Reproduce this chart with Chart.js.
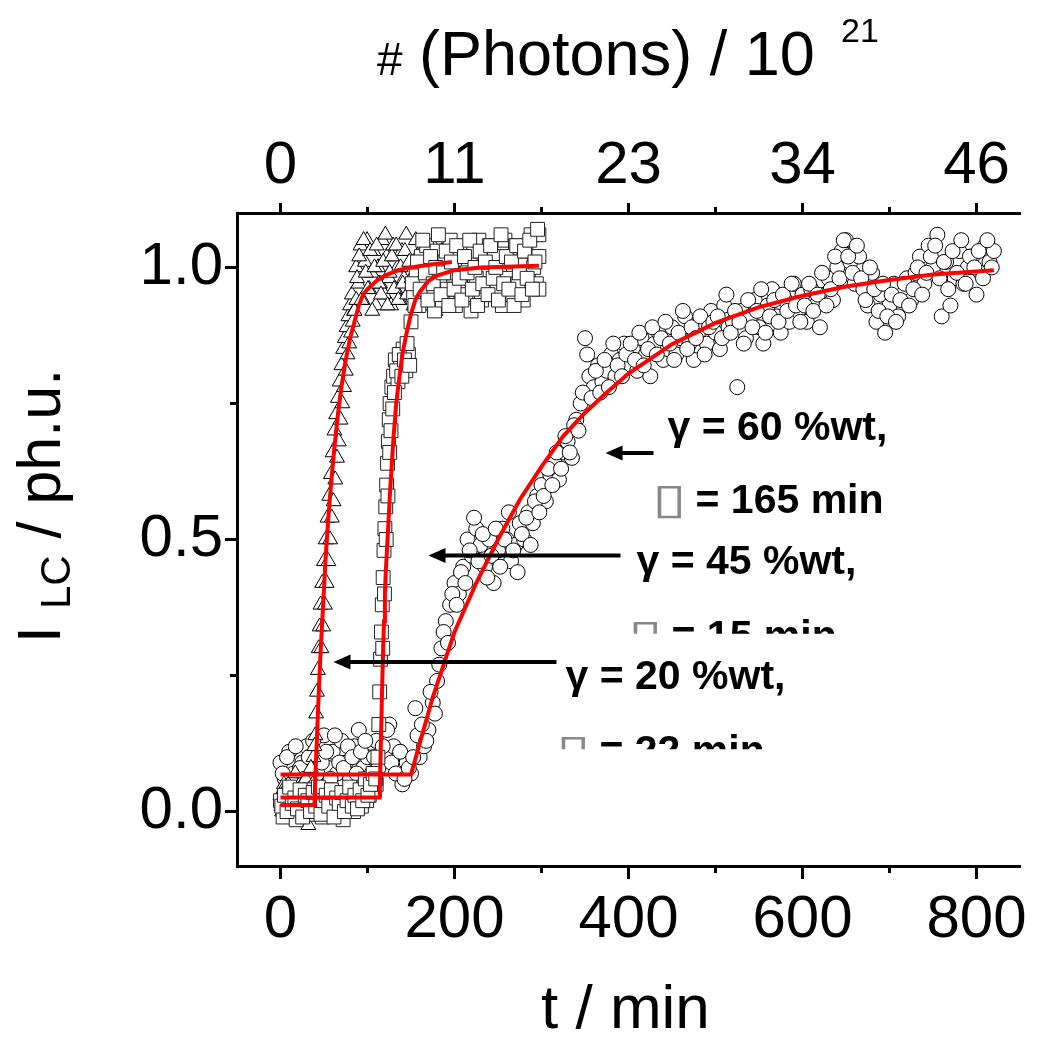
<!DOCTYPE html>
<html lang="en">
<head>
  <meta charset="UTF-8" />
  <title>I_LC vs t</title>
  <script src="https://cdn.jsdelivr.net/npm/chart.js"></script>
  <style>
    body { margin: 0; background: #fff; }
    #wrap { width: 1037px; height: 1038px; }
  </style>
</head>
<body>
  <div id="wrap"><canvas id="c"></canvas></div>

  <script>
    // --- gamma = 20 %wt (triangles) ---
    const triT = [0,2,4,6,8,10,12,14,16,18,20,22,24,26,28,30,32,34,36,
      38,40,41,42,43,44,45,46,48,50,52,54,56,58,60,62,64,66,68,70,72,74,76,78,80,
      82,84.5,87,89.5,92,94.5,97,99.5,102,104.5,107,109.5,112,114.5,117,119.5,122,124.5,127,129.5,
      132,134.5,137,139.5,142,144.5,147,149.5,152,154.5,157,159.5,162,164.5,167,169.5,172,174.5,
      177,179.5,182,184.5,187,189.5,192,194.5,197,199.5];
    const triY = [0.03,0.0,0.05,0.02,-0.01,0.04,0.01,0.06,0.02,0.0,0.03,0.05,0.01,0.0,0.02,0.04,-0.025,0.03,0.06,
      0.1,0.14,0.18,0.22,0.26,0.3,0.34,0.38,0.42,0.46,0.5,0.54,0.58,0.62,0.66,0.7,0.73,0.76,0.79,0.82,0.85,0.87,0.89,0.91,0.93,
      0.95,0.92,1.0,0.97,1.04,0.94,1.01,1.05,0.96,0.99,1.03,0.93,1.0,0.97,1.05,0.95,1.02,0.98,0.93,1.04,
      0.96,1.0,0.94,1.03,0.98,1.06,0.95,1.01,0.97,0.93,1.02,0.99,0.95,1.04,0.97,1.0,0.93,1.03,
      0.96,1.01,0.98,1.05,0.94,1.0,0.97,1.03,0.95,0.99];
    const tri2T = [1,3,5,7,9,11,13,15,17,19,21,23,25,27,29,31,33,35,37,39,
      47,49,51,53,55,57,59,61,63,65,67,69,71,73,75,77,79,81,83,85,87,
      88,90.5,93,95.5,98,100.5,103,105.5,108,110.5,113,115.5,118,120.5,123,125.5,128,130.5,133,135.5,
      138,140.5,143,145.5,148,150.5,153,155.5,158,160.5,163,165.5,168,170.5,173,175.5,178,180.5,183,185.5,
      188,190.5,193,195.5,198];
    const tri2Y = [0.01,0.04,-0.005,0.03,0.05,0.0,0.02,0.04,0.07,0.01,0.03,-0.01,0.05,0.02,0.06,0.01,0.04,0.08,0.05,0.12,
      0.3,0.34,0.38,0.42,0.46,0.5,0.54,0.57,0.61,0.65,0.68,0.72,0.75,0.78,0.81,0.84,0.86,0.88,0.9,0.92,0.94,
      0.98,1.02,0.94,1.05,0.99,0.96,1.03,0.92,1.0,1.04,0.97,0.95,1.01,1.06,0.93,0.99,1.02,0.96,1.04,0.94,
      1.0,0.97,1.03,0.95,1.01,0.98,0.93,1.05,0.96,1.0,1.03,0.94,0.99,1.02,0.96,1.04,0.92,1.0,0.97,1.03,
      0.95,1.01,0.98,0.94,1.02];

    // --- gamma = 45 %wt (squares) ---
    const sqT = [0,3,6,9,12,15,18,21,24,27,30,33,36,39,42,45,48,51,54,57,60,63,66,69,72,75,78,81,84,87,90,93,96,99,102,105,108,
      110,112,113,114,115,116,117,118,119,120,121,122,123,124,125,126,128,130,132,135,138,141,144,147,
      150,153,156,159,162,165,168,171,174,177,180,183,186,189,192,195,198,201,204,207,210,213,216,219,
      222,225,228,231,234,237,240,243,246,249,252,255,258,261,264,267,270,273,276,279,282,285,288,291,294,297,297,297];
    const sqY = [0.02,-0.01,0.03,0.0,0.04,0.01,-0.015,0.02,0.035,0.0,0.015,0.04,-0.005,0.02,0.03,0.01,-0.01,0.025,0.04,0.005,
      0.02,0.0,0.03,0.015,-0.015,0.025,0.01,0.04,0.0,0.02,0.035,0.01,0.045,0.02,0.03,0.05,0.04,
      0.05,0.1,0.16,0.22,0.28,0.33,0.38,0.43,0.48,0.52,0.56,0.6,0.64,0.68,0.72,0.75,0.78,0.8,0.83,0.79,0.82,0.85,0.81,0.84,
      0.9,0.95,0.99,0.93,1.02,0.97,1.04,0.95,1.0,0.92,1.03,0.98,0.94,1.01,0.96,1.05,0.99,0.93,1.02,0.97,1.04,0.95,1.0,0.92,
      1.03,0.98,1.05,0.94,1.01,0.97,1.04,0.95,1.02,0.96,1.0,0.93,1.05,0.98,1.02,0.95,1.04,0.97,1.01,0.94,1.03,0.99,1.06,1.0,0.97,1.02,1.06,0.96];
    const sq2T = [1.5,4.5,7.5,10.5,13.5,16.5,19.5,22.5,25.5,28.5,31.5,34.5,37.5,40.5,43.5,46.5,49.5,52.5,55.5,58.5,
      61.5,64.5,67.5,70.5,73.5,76.5,79.5,82.5,85.5,88.5,91.5,94.5,97.5,100.5,103.5,106.5,109.5,
      117.5,119.5,121.5,123.5,125.5,127,129,131,133.5,136.5,139.5,142.5,145.5,148.5,
      151.5,154.5,157.5,160.5,163.5,166.5,169.5,172.5,175.5,178.5,181.5,184.5,187.5,190.5,193.5,196.5,199.5,
      202.5,205.5,208.5,211.5,214.5,217.5,220.5,223.5,226.5,229.5,232.5,235.5,238.5,241.5,244.5,247.5,250.5,
      253.5,256.5,259.5,262.5,265.5,268.5,271.5,274.5,277.5,280.5,283.5,286.5,289.5,292.5,295.5];
    const sq2Y = [0.01,0.03,0.0,0.045,0.015,0.025,0.005,0.04,-0.01,0.03,0.02,0.0,0.035,0.01,0.045,-0.005,0.02,0.03,0.01,0.04,
      -0.01,0.025,0.015,0.035,0.0,0.02,0.045,0.01,0.03,0.005,0.04,0.02,0.06,0.03,0.05,0.07,0.06,
      0.3,0.4,0.5,0.58,0.66,0.7,0.74,0.77,0.81,0.84,0.8,0.83,0.86,0.82,
      0.97,0.93,1.01,0.96,1.05,0.99,0.94,1.02,0.97,1.0,1.06,0.95,0.99,1.03,0.93,1.01,0.96,
      1.04,0.98,0.94,1.02,0.99,1.05,0.96,1.0,0.93,1.03,0.97,1.01,0.95,1.04,0.98,1.0,0.94,
      1.06,0.97,1.02,0.96,1.01,0.93,1.04,0.99,0.95,1.03,0.98,1.05,0.96,1.01,1.07];

    // --- gamma = 60 %wt (circles) ---
    const cirT = [0,5,10,15,20,25,30,35,40,45,50,55,60,65,70,75,80,85,90,95,100,105,110,115,120,125,130,135,140,145,
      150,155,160,165,170,175,180,185,190,195,200,205,210,215,220,225,230,235,240,245,250,255,260,265,270,275,280,285,290,295,
      300,305,310,315,320,325,330,335,340,345,350,355,360,365,370,375,380,385,390,395,400,405,410,415,420,425,430,435,440,445,
      450,455,460,465,470,475,480,485,490,495,500,505,510,515,520,525,530,535,540,545,550,555,560,565,570,575,580,585,590,595,
      600,605,610,615,620,625,630,635,640,645,650,655,660,665,670,675,680,685,690,695,700,705,710,715,720,725,730,735,740,745,
      750,755,760,765,770,775,780,785,790,795,800,805,810,815,820];
    const cirY = [0.09,0.06,0.11,0.07,0.05,0.09,0.12,0.08,0.06,0.1,0.14,0.08,0.11,0.07,0.13,0.09,0.06,0.12,0.15,0.08,
      0.1,0.07,0.13,0.09,0.11,0.16,0.12,0.08,0.05,0.09,
      0.07,0.19,0.1,0.12,0.15,0.2,0.24,0.3,0.35,0.38,0.42,0.4,0.45,0.5,0.47,0.52,0.49,0.45,0.5,0.42,
      0.48,0.52,0.5,0.46,0.49,0.53,0.5,0.55,0.53,0.58,0.6,0.57,0.62,0.64,0.61,0.66,0.68,0.65,0.72,0.75,
      0.87,0.8,0.78,0.82,0.79,0.81,0.84,0.8,0.83,0.86,0.82,0.85,0.81,0.87,0.84,0.8,0.86,0.88,0.83,0.85,
      0.89,0.84,0.87,0.91,0.86,0.83,0.88,0.9,0.86,0.92,0.88,0.85,0.93,0.89,0.9,0.78,0.92,0.87,0.91,0.94,
      0.89,0.86,0.93,0.96,0.91,0.88,0.94,0.9,0.97,0.92,0.95,0.9,0.96,0.93,0.89,0.95,0.98,0.94,1.0,1.03,
      1.05,1.01,0.97,1.02,0.96,0.93,0.99,0.9,0.95,0.88,0.93,0.97,0.91,0.95,0.98,0.94,0.99,1.02,0.97,1.04,
      1.0,1.06,0.91,1.01,0.93,0.98,1.03,0.97,1.0,1.02,0.95,0.99,1.04,1.01,1.03];
    const cir2T = [2.5,7.5,12.5,17.5,22.5,27.5,32.5,37.5,42.5,47.5,52.5,57.5,62.5,67.5,72.5,77.5,82.5,87.5,92.5,97.5,
      102.5,107.5,112.5,117.5,122.5,127.5,132.5,137.5,142.5,147.5,152.5,157.5,162.5,167.5,172.5,177.5,182.5,187.5,192.5,197.5,
      202.5,207.5,212.5,217.5,222.5,227.5,232.5,237.5,242.5,247.5,252.5,257.5,262.5,267.5,272.5,277.5,282.5,287.5,292.5,297.5,
      302.5,307.5,312.5,317.5,322.5,327.5,332.5,337.5,342.5,347.5,352.5,357.5,362.5,367.5,372.5,377.5,382.5,387.5,392.5,397.5,
      402.5,407.5,412.5,417.5,422.5,427.5,432.5,437.5,442.5,447.5,452.5,457.5,462.5,467.5,472.5,477.5,482.5,487.5,492.5,497.5,
      502.5,507.5,512.5,517.5,522.5,527.5,532.5,537.5,542.5,547.5,552.5,557.5,562.5,567.5,572.5,577.5,582.5,587.5,592.5,597.5,
      602.5,607.5,612.5,617.5,622.5,627.5,632.5,637.5,642.5,647.5,652.5,657.5,662.5,667.5,672.5,677.5,682.5,687.5,692.5,697.5,
      702.5,707.5,712.5,717.5,722.5,727.5,732.5,737.5,742.5,747.5,752.5,757.5,762.5,767.5,772.5,777.5,782.5,787.5,792.5,797.5,
      802.5,807.5,812.5,817.5];
    const cir2Y = [0.07,0.1,0.05,0.12,0.08,0.06,0.1,0.13,0.07,0.09,0.11,0.06,0.14,0.09,0.08,0.12,0.1,0.07,0.11,0.13,
      0.06,0.1,0.08,0.12,0.15,0.09,0.07,0.11,0.06,0.08,0.1,0.14,0.16,0.13,0.22,0.18,0.27,0.33,0.31,0.4,
      0.38,0.44,0.42,0.48,0.54,0.46,0.51,0.43,0.47,0.52,0.45,0.5,0.55,0.48,0.44,0.51,0.54,0.49,0.57,0.55,
      0.58,0.63,0.6,0.66,0.63,0.69,0.66,0.71,0.7,0.77,0.84,0.76,0.81,0.77,0.83,0.78,0.86,0.82,0.8,0.84,
      0.86,0.83,0.88,0.82,0.85,0.89,0.84,0.87,0.9,0.86,0.83,0.88,0.92,0.85,0.89,0.87,0.91,0.84,0.89,0.9,
      0.91,0.87,0.95,0.88,0.92,0.9,0.86,0.94,0.89,0.92,0.96,0.88,0.91,0.94,0.9,0.95,0.92,0.97,0.93,0.9,
      0.93,0.97,0.92,0.95,0.99,0.93,0.96,1.02,0.98,1.05,1.02,0.99,1.04,0.98,0.94,1.0,0.96,0.92,0.97,0.91,
      0.95,0.9,0.94,0.97,0.93,0.96,1.0,0.95,0.99,1.02,1.04,0.98,1.01,0.96,1.03,0.99,1.05,0.97,1.02,1.0,
      1.03,0.98,1.05,1.0];

    // --- red fit curves ---
    const fit20T = [0,39,40,42,44,46,48,50,52,55,58,62,66,70,75,80,85,90,95,100,110,120,135,150,175,197];
    const fit20Y = [0.012,0.012,0.06,0.14,0.22,0.29,0.35,0.41,0.47,0.54,0.6,0.67,0.73,0.78,0.83,0.87,0.9,0.93,0.95,0.96,0.975,0.985,0.995,1.0,1.006,1.01];
    const fit45T = [0,114,115,116,117,118,119,120,121,122,124,126,128,130,133,136,140,145,150,155,160,170,180,200,230,297];
    const fit45Y = [0.026,0.026,0.1,0.17,0.24,0.3,0.35,0.4,0.44,0.47,0.53,0.59,0.64,0.69,0.75,0.79,0.84,0.88,0.915,0.94,0.955,0.975,0.985,0.995,1.0,1.003];
    const fit60T = [0,150,160,175,200,225,250,275,300,325,350,375,400,450,500,550,600,650,700,750,820];
    const fit60Y = [0.068,0.068,0.125,0.21,0.33,0.42,0.5,0.573,0.634,0.69,0.733,0.77,0.805,0.859,0.898,0.927,0.948,0.965,0.977,0.987,0.995];

    // --- axes ---
    const tMajor = [0, 200, 400, 600, 800];
    const tMinor = [100, 300, 500, 700];
    const photonLabels = ['0', '11', '23', '34', '46'];
    const iMajor = [0, 0.5, 1.0];
    const iMinor = [0.25, 0.75];
    const iLabels = ['0.0', '0.5', '1.0'];

    const pts = (xs, ys) => xs.map((x, i) => ({ x, y: ys[i] }));

    // annotation texts (data coordinates of the left end / baseline)
    const notes = [
      { text: 'γ = 60 %wt,', t: 444.8, v: 0.683 },
      { box: true, text: '= 165 min', t: 432.2, v: 0.548 },
      { text: 'γ = 45 %wt,', t: 409.2, v: 0.437 },
      { box: true, text: '= 15 min', t: 404.6, v: 0.299, clipV: 0.3266 },
      { text: 'γ = 20 %wt,', t: 327.6, v: 0.225 },
      { box: true, text: '= 22 min', t: 321.8, v: 0.0867, clipV: 0.1144 }
    ];
    const arrows = [
      { from: 428.7, to: 373.6, v: 0.659 },
      { from: 390.8, to: 170.1, v: 0.4705 },
      { from: 317.2, to: 60.9, v: 0.275 }
    ];

    const FONT = "'Liberation Sans', Arial, sans-serif";

    const decor = {
      id: 'decor',
      afterDraw(chart) {
        const { ctx } = chart;
        const x = chart.scales.x, y = chart.scales.y, x2 = chart.scales.x2;
        ctx.save();
        ctx.strokeStyle = '#000';
        ctx.fillStyle = '#000';
        ctx.lineWidth = 3;

        // minor ticks
        tMinor.forEach(v => {
          const p = x.getPixelForValue(v);
          ctx.beginPath(); ctx.moveTo(p, x.top); ctx.lineTo(p, x.top + 7); ctx.stroke();
          ctx.beginPath(); ctx.moveTo(p, x2.bottom); ctx.lineTo(p, x2.bottom - 6); ctx.stroke();
        });
        iMinor.forEach(v => {
          const p = y.getPixelForValue(v);
          ctx.beginPath(); ctx.moveTo(y.right, p); ctx.lineTo(y.right - 7, p); ctx.stroke();
        });

        // arrows
        arrows.forEach(a => {
          const x1 = x.getPixelForValue(a.from), x0 = x.getPixelForValue(a.to), py = y.getPixelForValue(a.v);
          ctx.lineWidth = 4;
          ctx.beginPath(); ctx.moveTo(x1, py); ctx.lineTo(x0 + 12, py); ctx.stroke();
          ctx.beginPath(); ctx.moveTo(x0, py); ctx.lineTo(x0 + 17, py - 7.5); ctx.lineTo(x0 + 17, py + 7.5); ctx.closePath(); ctx.fill();
        });

        // annotation texts
        ctx.textBaseline = 'alphabetic';
        ctx.textAlign = 'left';
        notes.forEach(n => {
          const px = x.getPixelForValue(n.t), py = y.getPixelForValue(n.v);
          ctx.save();
          if (n.clipV !== undefined) {
            const cy = y.getPixelForValue(n.clipV);
            ctx.beginPath(); ctx.rect(0, 0, chart.width, cy); ctx.clip();
          }
          if (n.box) {
            ctx.save();
            ctx.translate(px, py);
            ctx.scale(1.5, 1);
            ctx.font = "200 42px 'DejaVu Sans'";
            ctx.fillStyle = '#888';
            ctx.fillText('▯', -3, 0);
            ctx.restore();
            ctx.fillStyle = '#000';
            ctx.font = 'bold 41px ' + FONT;
            ctx.fillText(n.text, px + 39, py);
          } else {
            ctx.font = 'bold 41px ' + FONT;
            ctx.fillText(n.text, px, py);
          }
          ctx.restore();
        });

        // top title
        ctx.fillStyle = '#000';
        ctx.font = '46px ' + FONT;
        ctx.fillText('#', 377, 75);
        ctx.font = '63px ' + FONT;
        ctx.fillText('(Photons) / 10', 419, 75);
        ctx.font = '34px ' + FONT;
        ctx.fillText('21', 841, 42);

        // bottom title
        ctx.font = '62px ' + FONT;
        ctx.fillText('t / min', 541, 1028);

        // left title (rotated)
        ctx.save();
        ctx.translate(60, 643);
        ctx.rotate(-Math.PI / 2);
        ctx.font = '61px ' + FONT;
        ctx.fillText('I ', 0, 0);
        let w = ctx.measureText('I ').width;
        ctx.font = '42px ' + FONT;
        ctx.fillText('LC', w, 10);
        w += ctx.measureText('LC').width;
        ctx.font = '61px ' + FONT;
        ctx.fillText(' / ph.u.', w, 0);
        ctx.restore();

        ctx.restore();
      }
    };

    const tickFont = { family: FONT, size: 60 };
    const axisGrid = (len) => ({ drawOnChartArea: false, drawTicks: true, tickLength: len, tickWidth: 3, tickColor: '#000' });
    const axisBorder = { display: true, color: '#000', width: 3 };

    new Chart(document.getElementById('c'), {
      type: 'scatter',
      data: {
        datasets: [
          { label: 'fit 20', data: pts(fit20T, fit20Y), showLine: true, borderColor: '#ff0000', borderWidth: 4, pointRadius: 0, tension: 0, order: 0 },
          { label: 'fit 45', data: pts(fit45T, fit45Y), showLine: true, borderColor: '#ff0000', borderWidth: 4, pointRadius: 0, tension: 0, order: 0 },
          { label: 'fit 60', data: pts(fit60T, fit60Y), showLine: true, borderColor: '#ff0000', borderWidth: 4, pointRadius: 0, tension: 0, order: 0 },
          { label: '45 %wt', data: pts(sqT.concat(sq2T), sqY.concat(sq2Y)), pointStyle: 'rect', pointRadius: 9.8, borderWidth: 1, borderColor: '#222', backgroundColor: '#fff', order: 1 },
          { label: '20 %wt', data: pts(triT.concat(tri2T), triY.concat(tri2Y)), pointStyle: 'triangle', pointRadius: 8.6, borderWidth: 1, borderColor: '#000', backgroundColor: '#fff', order: 2 },
          { label: '60 %wt', data: pts(cirT.concat(cir2T), cirY.concat(cir2Y)), pointStyle: 'circle', pointRadius: 7.5, borderWidth: 1, borderColor: '#000', backgroundColor: '#fff', order: 3 }
        ]
      },
      options: {
        responsive: true,
        maintainAspectRatio: false,
        animation: false,
        layout: { padding: { left: 0, right: 17, top: 0, bottom: 0 } },
        plugins: { legend: { display: false }, tooltip: { enabled: false } },
        scales: {
          x: {
            type: 'linear', position: 'bottom', min: -50, max: 850,
            afterBuildTicks: s => { s.ticks = tMajor.map(v => ({ value: v })); },
            afterFit: s => { s.height = 172; },
            grid: axisGrid(13), border: axisBorder,
            ticks: { color: '#000', font: tickFont, padding: 5, maxRotation: 0, autoSkip: false, callback: v => String(v) }
          },
          x2: {
            type: 'linear', position: 'top', min: -50, max: 850,
            afterBuildTicks: s => { s.ticks = tMajor.map(v => ({ value: v })); },
            afterFit: s => { s.height = 213; },
            grid: axisGrid(10), border: axisBorder,
            ticks: { color: '#000', font: tickFont, padding: 1, maxRotation: 0, autoSkip: false, callback: (v, i) => photonLabels[i] }
          },
          y: {
            type: 'linear', position: 'left', min: -0.1, max: 1.1,
            afterBuildTicks: s => { s.ticks = iMajor.map(v => ({ value: v })); },
            afterFit: s => { s.width = 237; },
            grid: axisGrid(12), border: axisBorder,
            ticks: { color: '#000', font: tickFont, padding: 2, callback: (v, i) => iLabels[i] }
          }
        }
      },
      plugins: [decor]
    });
  </script>
</body>
</html>
